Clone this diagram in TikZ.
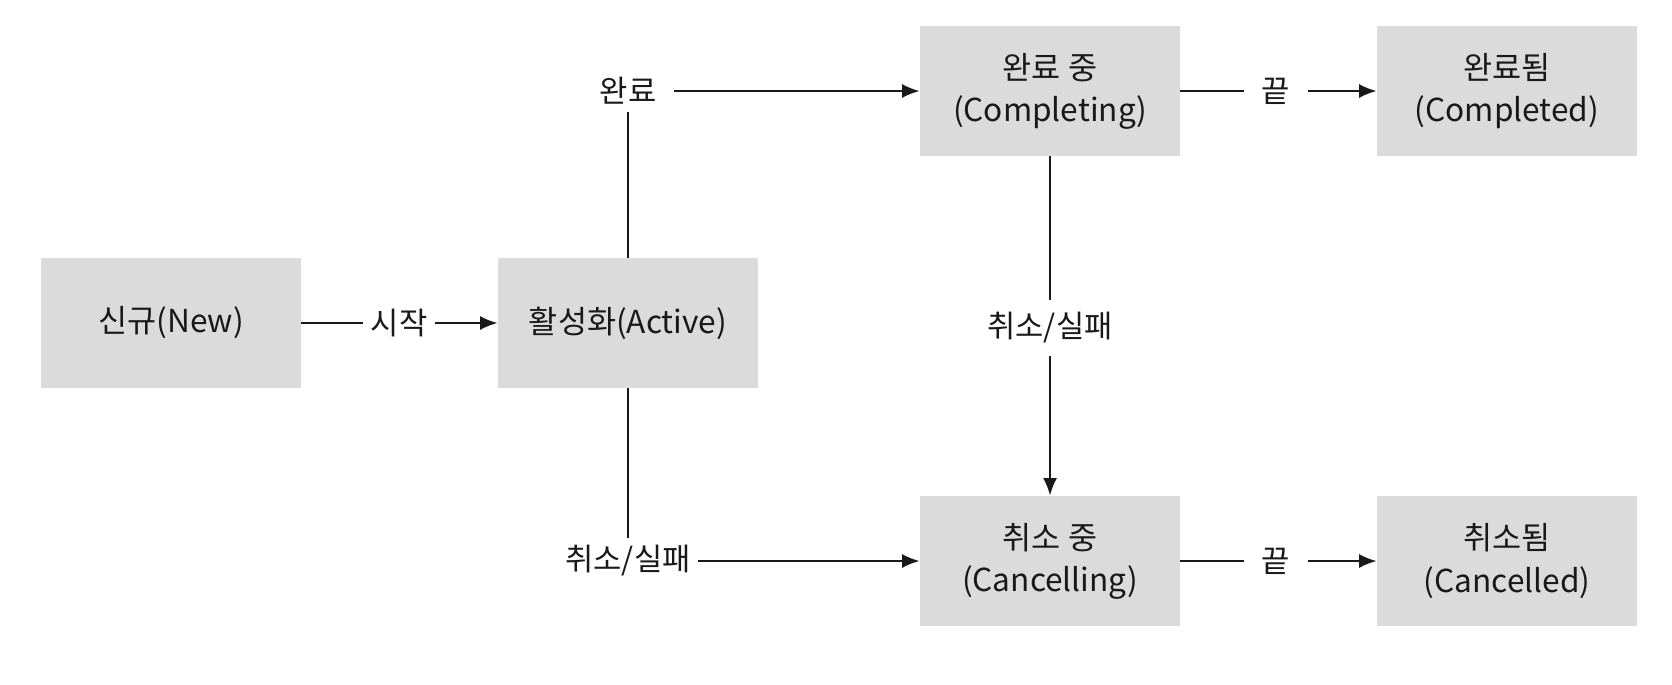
\documentclass[tikz,border=0pt]{standalone}
\usepackage{fontspec}
\setmainfont{Noto Sans CJK KR}
\colorlet{StateFill}{black!14}
\colorlet{StateInk}{black!90}
\usetikzlibrary{arrows.meta}
\tikzset{
    state box/.style={
        fill=StateFill, text=StateInk, align=center,
        minimum width=5.2cm, minimum height=2.6cm,
        font=\fontsize{18}{24}\selectfont
    },
    edge label/.style={
        text=StateInk, inner sep=4pt,
        font=\fontsize{17.5}{20}\selectfont
    },
    trans/.style={draw=StateInk, line width=1.35pt},
    trans arrow/.style={trans, -{Latex[length=10pt, width=8pt]}}
}

\begin{document}
\begin{tikzpicture}[x=0.02cm, y=-0.02cm]

% Fondo y marco de la imagen.
\fill[white] (0,0) rectangle (1672,684);
\useasboundingbox (0,0) rectangle (1672,684);

% Estados.
\node[state box] (new) at (171,323) {신규(New)};
\node[state box] (active) at (628,323) {활성화(Active)};
\node[state box] (completing) at (1050,91) {완료 중\\(Completing)};
\node[state box] (completed) at (1507,91) {완료됨\\(Completed)};
\node[state box] (cancelling) at (1050,561) {취소 중\\(Cancelling)};
\node[state box] (cancelled) at (1507,561) {취소됨\\(Cancelled)};

% Etiquetas de las transiciones.
\node[edge label] (start) at (399,323) {시작};
\node[edge label, inner xsep=10pt] (finish) at (628,91) {완료};
\node[edge label] (abort) at (628,561) {취소/실패};
\node[edge label, inner ysep=7pt] (abortmid) at (1050,328) {취소/실패};
\node[edge label, inner xsep=10pt] (endtop) at (1276,91) {끝};
\node[edge label, inner xsep=10pt] (endbot) at (1276,561) {끝};

% Transiciones.
\draw[trans] (new) -- (start);
\draw[trans arrow] (start) -- (active);
\draw[trans] (active) -- (finish);
\draw[trans arrow] (finish) -- (completing);
\draw[trans] (active) -- (abort);
\draw[trans arrow] (abort) -- (cancelling);
\draw[trans] (completing) -- (abortmid);
\draw[trans arrow] (abortmid) -- (cancelling);
\draw[trans] (completing) -- (endtop);
\draw[trans arrow] (endtop) -- (completed);
\draw[trans] (cancelling) -- (endbot);
\draw[trans arrow] (endbot) -- (cancelled);

\end{tikzpicture}
\end{document}
